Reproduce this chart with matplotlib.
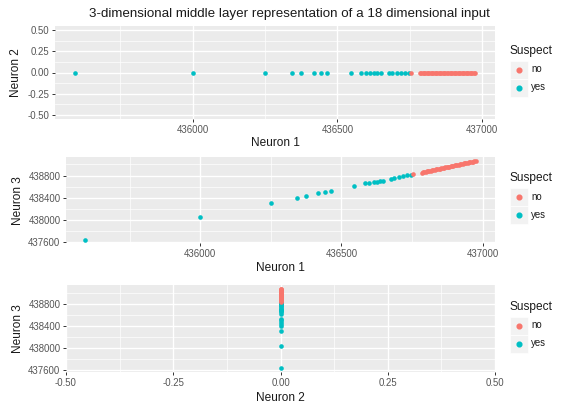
import numpy as np
import matplotlib.pyplot as plt
from matplotlib.patches import Rectangle
from matplotlib.lines import Line2D
from matplotlib.ticker import MultipleLocator

plt.rcParams['font.family'] = ['Liberation Sans', 'DejaVu Sans']

# middle layer activations, suspect == "yes"
yes_n1 = [435594, 436000, 436250, 436344, 436375, 436419, 436442, 436464,
          436546, 436583, 436598, 436614, 436626, 436638, 436649, 436677,
          436688, 436704, 436719, 436733, 436746]
yes_n3 = [437637, 438044, 438303, 438400, 438435, 438476, 438507, 438525,
          438615, 438656, 438663, 438680, 438687, 438695, 438705, 438740,
          438750, 438772, 438790, 438803, 438815]

# suspect == "no"
no_n1 = [436753, 436785, 436789, 436794, 436798, 436803, 436808, 436812,
         436817, 436822, 436826, 436831, 436836, 436840, 436845, 436850,
         436854, 436859, 436864, 436868, 436873, 436878, 436882, 436887,
         436892, 436896, 436901, 436906, 436910, 436915, 436920, 436924,
         436929, 436934, 436938, 436943, 436948, 436952, 436957, 436962,
         436966, 436971, 436975]
no_n3 = [438825, 438854, 438858, 438864, 438868, 438874, 438880, 438884,
         438890, 438895, 438900, 438905, 438911, 438915, 438921, 438926,
         438931, 438936, 438942, 438946, 438952, 438957, 438962, 438967,
         438973, 438977, 438983, 438988, 438993, 438998, 439004, 439008,
         439014, 439019, 439024, 439029, 439035, 439039, 439045, 439050,
         439054, 439060, 439065]

# neuron 2 never fires
yes_n2 = np.zeros(len(yes_n1))
no_n2 = np.zeros(len(no_n1))

groups = ['no', 'yes']
colors = {'no': '#F8766D', 'yes': '#00BFC4'}

W, H = 564, 405
fig = plt.figure(figsize=(W / 100, H / 100), dpi=100)
fig.patch.set_facecolor('white')


def add_panel(left, top, right, bottom):
    return fig.add_axes([left / W, 1 - bottom / H, (right - left) / W, (bottom - top) / H])


def style(ax, xmaj, xmin, ymaj, ymin):
    ax.set_facecolor('#EBEBEB')
    for s in ax.spines.values():
        s.set_visible(False)
    ax.xaxis.set_major_locator(MultipleLocator(xmaj))
    ax.xaxis.set_minor_locator(MultipleLocator(xmin))
    ax.yaxis.set_major_locator(MultipleLocator(ymaj))
    ax.yaxis.set_minor_locator(MultipleLocator(ymin))
    ax.grid(which='major', color='white', linewidth=1.0)
    ax.grid(which='minor', color='white', linewidth=0.5)
    ax.set_axisbelow(True)
    ax.tick_params(which='major', length=2.5, width=0.7, color='#333333',
                   labelsize=6.9, labelcolor='#555555', pad=1.5)
    ax.tick_params(which='minor', length=0)


def legend(center):
    fig.text(509 / W, 1 - (center - 21.5) / H, 'Suspect', ha='left', va='center',
             fontsize=8.6, color='#1a1a1a')
    for i, g in enumerate(groups):
        yc = center - 3 + i * 18
        fig.add_artist(Rectangle((510 / W, 1 - (yc + 9) / H), 17.5 / W, 18 / H,
                                 transform=fig.transFigure, facecolor='#F2F2F2',
                                 edgecolor='white', linewidth=0.5))
        fig.add_artist(Line2D([518.8 / W], [1 - yc / H], transform=fig.transFigure,
                              marker='o', markersize=3.4, color=colors[g],
                              linestyle='none'))
        fig.text(531 / W, 1 - yc / H, g, ha='left', va='center', fontsize=6.9,
                 color='#1a1a1a')


xlim1 = (435525, 437044)
ylim3 = (437566, 439136)

# Neuron 2 vs Neuron 1
ax1 = add_panel(55, 26, 495, 119)
ax1.scatter(yes_n1, yes_n2, s=11, color=colors['yes'], linewidths=0, zorder=3)
ax1.scatter(no_n1, no_n2, s=11, color=colors['no'], linewidths=0, zorder=3)
ax1.set_xlim(*xlim1)
ax1.set_ylim(-0.55, 0.55)
style(ax1, 500, 250, 0.25, 0.125)
ax1.xaxis.set_major_formatter(lambda v, p: f'{v:.0f}')
ax1.yaxis.set_major_formatter(lambda v, p: f'{v:.2f}')
ax1.set_xlabel('Neuron 1', fontsize=8.6, labelpad=2, color='#1a1a1a')
ax1.set_ylabel('Neuron 2', fontsize=8.6, labelpad=4, color='#1a1a1a')
legend(72.5)

# Neuron 3 vs Neuron 1
ax2 = add_panel(66, 157, 495, 243.5)
ax2.scatter(yes_n1, yes_n3, s=11, color=colors['yes'], linewidths=0, zorder=3)
ax2.scatter(no_n1, no_n3, s=11, color=colors['no'], linewidths=0, zorder=3)
ax2.set_xlim(*xlim1)
ax2.set_ylim(*ylim3)
style(ax2, 500, 250, 400, 200)
ax2.xaxis.set_major_formatter(lambda v, p: f'{v:.0f}')
ax2.yaxis.set_major_formatter(lambda v, p: f'{v:.0f}')
ax2.set_xlabel('Neuron 1', fontsize=8.6, labelpad=2, color='#1a1a1a')
ax2.set_ylabel('Neuron 3', fontsize=8.6, labelpad=3, color='#1a1a1a')
legend(200)

# Neuron 3 vs Neuron 2
ax3 = add_panel(66, 285, 495, 372)
ax3.scatter(yes_n2, yes_n3, s=11, color=colors['yes'], linewidths=0, zorder=3)
ax3.scatter(no_n2, no_n3, s=11, color=colors['no'], linewidths=0, zorder=3)
ax3.set_xlim(-0.5, 0.5)
ax3.set_ylim(*ylim3)
style(ax3, 0.25, 0.125, 400, 200)
ax3.xaxis.set_major_formatter(lambda v, p: f'{v:.2f}')
ax3.yaxis.set_major_formatter(lambda v, p: f'{v:.0f}')
ax3.set_xlabel('Neuron 2', fontsize=8.6, labelpad=3.5, color='#1a1a1a')
ax3.set_ylabel('Neuron 3', fontsize=8.6, labelpad=3, color='#1a1a1a')
legend(328.5)

fig.text(289 / W, 1 - 13.5 / H,
         '3-dimensional middle layer representation of a 18 dimensional input',
         ha='center', va='center', fontsize=9.6, color='#1a1a1a')

fig.savefig('out.png', dpi=100)
